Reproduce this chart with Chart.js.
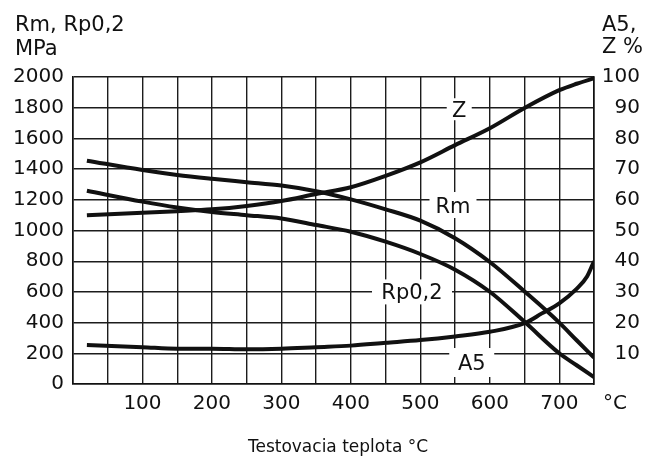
<!DOCTYPE html>
<html>
<head>
<meta charset="utf-8">
<script src="https://cdn.jsdelivr.net/npm/chart.js@4.4.1/dist/chart.umd.min.js"></script>
<style>
  html, body { margin: 0; padding: 0; background: #fff; }
  canvas { display: block; }
</style>
</head>
<body>
<canvas id="chart" width="646" height="459"></canvas>
<script>
// Test temperatures (°C) where the strength / reduction curves were read
const temps = [20, 100, 150, 200, 250, 300, 350, 400, 450, 500, 550, 600, 650, 700, 725, 750];
const rmValues = [1455, 1394, 1362, 1337, 1315, 1293, 1256, 1203, 1138, 1064, 950, 795, 603, 400, 285, 172];
const rpValues = [1259, 1188, 1150, 1121, 1100, 1078, 1036, 992, 927, 847, 745, 601, 405, 200, 122, 45];
const zValues = [55, 55.8, 56.3, 56.9, 58, 59.6, 61.9, 64.1, 67.8, 72.2, 77.8, 83.3, 89.9, 95.7, 97.8, 99.6];

// Elongation A5 (needs a few more readings near the end)
const a5Temps = [20, 100, 150, 200, 250, 300, 350, 400, 450, 500, 550, 600, 650, 675, 700, 725, 740, 750];
const a5Values = [12.7, 12, 11.5, 11.5, 11.3, 11.5, 12, 12.5, 13.4, 14.3, 15.5, 17, 19.8, 23, 26.3, 31, 35, 40];

// Axis tick labels
const xTickLabels = [100, 200, 300, 400, 500, 600, 700];
const leftTicks = [0, 200, 400, 600, 800, 1000, 1200, 1400, 1600, 1800, 2000];
const rightTicks = [10, 20, 30, 40, 50, 60, 70, 80, 90, 100];

function toPoints(xs, ys) {
    let pts = [];
    for (let i = 0; i < xs.length; i++) {
        pts.push({x: xs[i], y: ys[i]});
    }
    return pts;
}

const ink = '#111';
const tickFont = {family: 'DejaVu Sans', size: 20};

// Curve labels sitting on white patches over the grid
const curveLabels = [
    {text: 'Z', t: 556, v: 89.5, axis: 'y1', w: 25, h: 22},
    {text: 'Rm', t: 547, v: 1166, axis: 'y', w: 47, h: 26},
    {text: 'Rp0,2', t: 488, v: 600, axis: 'y', w: 80, h: 25},
    {text: 'A5', t: 574, v: 140, axis: 'y', w: 45, h: 29}
];

const labelPlugin = {
    id: 'curveLabels',
    beforeDatasetsDraw(chart) {
        const ctx = chart.ctx;
        ctx.save();
        ctx.font = '21px "DejaVu Sans"';
        ctx.textAlign = 'center';
        ctx.textBaseline = 'alphabetic';
        for (let lb of curveLabels) {
            let px = chart.scales.x.getPixelForValue(lb.t);
            let py = chart.scales[lb.axis].getPixelForValue(lb.v);
            ctx.fillStyle = '#fff';
            ctx.fillRect(px - lb.w / 2, py - lb.h / 2, lb.w, lb.h);
            ctx.fillStyle = ink;
            ctx.fillText(lb.text, px, py + 7.5);
        }
        ctx.restore();
    },
    afterDraw(chart) {
        const ctx = chart.ctx;
        ctx.save();
        ctx.fillStyle = ink;
        ctx.textBaseline = 'alphabetic';
        ctx.font = '21px "DejaVu Sans"';
        ctx.textAlign = 'left';
        ctx.fillText('Rm, Rp0,2', 15, 31);
        ctx.fillText('MPa', 15, 55);
        ctx.fillText('A5,', 602, 31);
        ctx.fillText('Z %', 602, 53);
        // unit after last x tick
        ctx.font = '20px "DejaVu Sans"';
        ctx.textBaseline = 'middle';
        ctx.fillText('°C', 603, 404);
        // x axis title
        ctx.font = '17px "DejaVu Sans"';
        ctx.textAlign = 'center';
        ctx.textBaseline = 'alphabetic';
        ctx.fillText('Testovacia teplota °C', 338, 452);
        ctx.restore();
    }
};

const lineStyle = {
    borderColor: ink,
    backgroundColor: ink,
    borderWidth: 4,
    pointRadius: 0,
    fill: false,
    cubicInterpolationMode: 'monotone'
};

const ctx = document.getElementById('chart').getContext('2d');
const chart = new Chart(ctx, {
    type: 'line',
    data: {
        datasets: [
            Object.assign({label: 'Rm', data: toPoints(temps, rmValues), yAxisID: 'y'}, lineStyle),
            Object.assign({label: 'Rp0,2', data: toPoints(temps, rpValues), yAxisID: 'y'}, lineStyle),
            Object.assign({label: 'Z', data: toPoints(temps, zValues), yAxisID: 'y1'}, lineStyle),
            Object.assign({label: 'A5', data: toPoints(a5Temps, a5Values), yAxisID: 'y1'}, lineStyle)
        ]
    },
    options: {
        responsive: false,
        animation: false,
        devicePixelRatio: 1,
        layout: {padding: {top: 77, right: 6, left: 0, bottom: 0}},
        plugins: {
            legend: {display: false},
            tooltip: {enabled: false}
        },
        scales: {
            x: {
                type: 'linear',
                min: 0,
                max: 750,
                ticks: {
                    stepSize: 50,
                    autoSkip: false,
                    maxRotation: 0,
                    padding: 8,
                    color: ink,
                    font: tickFont,
                    callback: (v) => xTickLabels.includes(v) ? String(v) : ''
                },
                grid: {color: '#1c1c1c', lineWidth: 1.4, drawTicks: false},
                border: {color: ink, width: 1.6},
                afterFit: (s) => { s.height = 75; }
            },
            y: {
                position: 'left',
                min: 0,
                max: 2000,
                afterBuildTicks: (s) => { s.ticks = leftTicks.map(v => ({value: v})); },
                ticks: {padding: 9, color: ink, font: tickFont, callback: (v) => String(v)},
                grid: {color: '#1c1c1c', lineWidth: 1.4, drawTicks: false},
                border: {color: ink, width: 1.6},
                afterFit: (s) => { s.width = 73; }
            },
            y1: {
                position: 'right',
                min: 0,
                max: 100,
                afterBuildTicks: (s) => { s.ticks = rightTicks.map(v => ({value: v})); },
                ticks: {crossAlign: 'far', color: ink, font: tickFont, callback: (v) => String(v)},
                grid: {drawOnChartArea: false, drawTicks: false},
                border: {color: ink, width: 1.6},
                afterFit: (s) => { s.width = 46; }
            }
        }
    },
    plugins: [labelPlugin]
});
</script>
</body>
</html>
